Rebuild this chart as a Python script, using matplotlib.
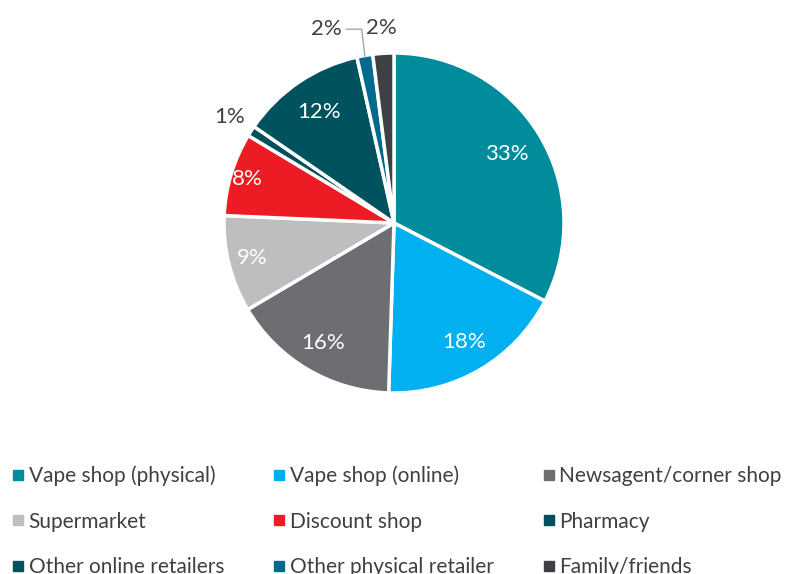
import numpy as np
import matplotlib.pyplot as plt
from matplotlib.lines import Line2D

plt.rcParams['font.family'] = ['Lato', 'DejaVu Sans']

# data (slice sizes from angles, labels as printed)
categories = ['Vape shop (physical)', 'Vape shop (online)', 'Newsagent/corner shop',
              'Supermarket', 'Discount shop', 'Pharmacy',
              'Other online retailers', 'Other physical retailer', 'Family/friends']
shares = [32.6, 17.9, 16.0, 9.2, 7.9, 1.0, 11.9, 1.5, 2.0]
labels = ['33%', '18%', '16%', '9%', '8%', '1%', '12%', '2%', '2%']
colors = ['#008C9A', '#00B0F0', '#6D6E71', '#BCBEC0', '#ED1C24',
          '#00505C', '#00535E', '#006A8E', '#3F4044']

# label radius and colour per slice (outside labels in dark grey)
label_r = [0.78, 0.81, 0.82, 0.86, 0.9, 1.15, 0.79, None, 1.15]
label_c = ['white'] * 5 + ['#404040', 'white', '#404040', '#404040']

fig = plt.figure(figsize=(7.88, 5.74), dpi=100)
ax = fig.add_axes([(394 - 170) / 788, (574 - 393) / 574, 340 / 788, 340 / 574])

wedges, _ = ax.pie(shares, colors=colors, startangle=90, counterclock=False,
                   wedgeprops=dict(edgecolor='white', linewidth=2.5))
ax.set_xlim(-1, 1)
ax.set_ylim(-1, 1)
ax.set_aspect('equal')

for w, lab, r, c in zip(wedges, labels, label_r, label_c):
    ang = np.deg2rad((w.theta1 + w.theta2) / 2)
    if r is None:
        # leader line for the small "other physical" slice
        x0, y0 = 0.99 * np.cos(ang), 0.99 * np.sin(ang)
        ax.plot([x0, x0 - 0.02, -0.28], [y0, 1.14, 1.14], color='#A6A6A6', lw=1,
                clip_on=False)
        ax.text(-0.4, 1.14, lab, ha='center', va='center', fontsize=16, color=c)
        continue
    ax.text(r * np.cos(ang), r * np.sin(ang), lab, ha='center', va='center',
            fontsize=16, color=c)

# legend in row order like the original
handles = [Line2D([], [], marker='s', ls='', color=col, markersize=6.5) for col in colors]
order = [0, 3, 6, 1, 4, 7, 2, 5, 8]
fig.legend([handles[i] for i in order], [categories[i] for i in order],
           loc='upper left', bbox_to_anchor=(-0.006, 0.221), ncol=3, frameon=False,
           fontsize=15, handlelength=0.4, handletextpad=0.3,
           columnspacing=2.45, labelspacing=1.21, labelcolor='#404040')

fig.savefig('out.png', dpi=100)
